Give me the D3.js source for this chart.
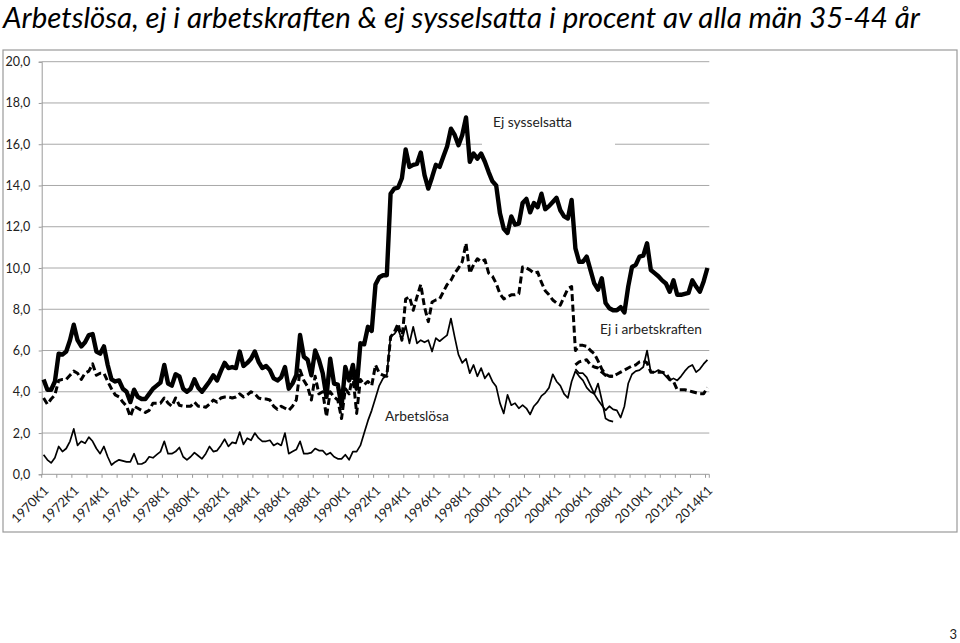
<!DOCTYPE html>
<html><head><meta charset="utf-8">
<script src="https://cdn.jsdelivr.net/npm/d3@7"></script>
<style>body{margin:0;background:#fff}</style>
</head><body>
<svg id="c" width="960" height="643"></svg>
<script>
// ---- data ----
const firstYear = 1970, lastYear = 2014, lastQuarter = 1;
const quarters = [];
for (let yy = firstYear; yy <= lastYear; yy++) for (let q = 1; q <= 4; q++) {
  if (yy === lastYear && q > lastQuarter) break;
  quarters.push(yy + "K" + q);
}
const tickLabels = ["1970K1","1972K1","1974K1","1976K1","1978K1","1980K1","1982K1","1984K1","1986K1","1988K1","1990K1","1992K1","1994K1","1996K1","1998K1","2000K1","2002K1","2004K1","2006K1","2008K1","2010K1","2012K1","2014K1"];
const yTicks = [0,2,4,6,8,10,12,14,16,18,20];

const ejSysselsatta = [4.6,4.1,4.1,4.5,5.85,5.8,5.95,6.5,7.25,6.5,
6.2,6.4,6.75,6.8,5.95,5.85,6.2,5.3,4.6,4.5,
4.55,4.15,4.0,3.5,4.1,3.75,3.65,3.65,3.9,4.15,
4.3,4.45,5.3,4.4,4.3,4.85,4.75,4.15,4.0,4.15,
4.6,4.2,4.0,4.25,4.5,4.8,4.55,5.0,5.4,5.15,
5.2,5.15,5.95,5.25,5.4,5.6,5.95,5.45,5.15,5.25,
5.05,4.65,4.55,4.7,5.2,4.15,4.4,4.8,6.75,5.7,
5.55,4.8,6.0,5.55,4.9,3.75,5.6,4.4,4.35,3.3,
5.2,4.55,5.3,4.15,6.35,6.3,7.15,6.95,9.2,9.55,
9.65,9.65,13.6,13.85,13.9,14.35,15.75,14.9,15.0,15.05,
15.6,14.5,13.85,14.4,15.0,14.9,15.4,15.9,16.75,16.45,
15.95,16.45,17.3,15.15,15.55,15.3,15.55,15.15,14.65,14.2,
14.0,12.65,11.9,11.7,12.5,12.1,12.15,13.15,13.35,12.7,
13.15,12.95,13.6,12.85,13.0,13.2,13.4,12.8,12.5,12.4,
13.3,10.95,10.3,10.3,10.55,9.9,9.25,8.95,9.5,8.3,
8.05,7.95,7.95,8.1,7.85,9.1,10.05,10.15,10.55,10.6,
11.2,9.9,9.75,9.6,9.4,9.25,8.85,9.4,8.7,8.7,
8.75,8.8,9.4,9.1,8.85,9.35,10.0];

const ejIArbetskraften = [3.7,3.4,3.65,3.85,4.55,4.6,4.6,4.8,5.0,4.9,
4.6,4.9,5.0,5.35,4.8,4.9,4.9,4.5,4.15,3.85,
3.75,3.5,3.3,2.8,3.3,3.2,3.1,3.0,3.1,3.45,
3.45,3.45,3.7,3.45,3.3,3.7,3.35,3.3,3.3,3.3,
3.5,3.3,3.3,3.25,3.4,3.6,3.5,3.7,3.75,3.75,
3.7,3.75,3.9,3.75,3.85,4.0,3.9,3.7,3.65,3.65,
3.6,3.3,3.15,3.3,3.2,3.1,3.3,3.6,5.05,4.55,
4.25,3.6,4.75,3.9,4.0,2.8,4.0,3.75,3.6,2.7,
4.15,3.9,4.8,2.95,4.6,4.35,4.5,4.3,5.3,4.9,
4.8,4.75,6.65,6.9,7.3,6.5,8.5,8.6,7.95,8.6,
9.2,8.1,7.4,8.35,8.45,8.5,8.85,9.2,9.4,9.75,
10.0,10.3,11.2,9.75,10.15,10.45,10.3,10.4,9.75,9.6,
9.25,8.75,8.5,8.6,8.7,8.7,8.75,10.05,10.0,9.9,
9.75,9.8,9.3,8.9,8.7,8.45,8.3,8.2,8.6,9.0,
9.1,6.0,6.25,6.25,6.2,6.0,5.85,5.5,5.1,4.85,
4.75,4.75,4.85,4.95,5.05,5.15,5.25,5.3,5.45,5.5,
5.4,4.95,4.95,4.95,4.95,4.9,4.6,4.5,4.1,4.1,
4.1,4.05,4.0,3.95,3.9,3.9,4.2];

const arbetslosa = [0.95,0.7,0.55,0.8,1.35,1.1,1.25,1.6,2.2,1.4,
1.6,1.5,1.8,1.6,1.25,1.0,1.35,0.85,0.45,0.6,
0.7,0.65,0.6,0.6,1.0,0.5,0.5,0.6,0.85,0.8,
0.95,1.1,1.6,1.0,1.0,1.1,1.3,0.85,0.7,0.85,
1.05,0.9,0.75,1.0,1.35,1.1,1.15,1.4,1.7,1.35,
1.55,1.5,2.05,1.45,1.75,1.65,2.0,1.75,1.6,1.6,
1.65,1.4,1.5,1.4,2.0,1.0,1.1,1.2,1.6,1.0,
1.0,1.05,1.25,1.15,1.15,0.95,1.05,0.85,0.75,0.75,
0.95,0.7,1.1,1.1,1.4,2.0,2.6,3.1,3.7,4.3,
4.65,4.8,6.7,6.8,7.05,6.5,7.2,6.35,7.15,6.35,
6.5,6.4,6.5,5.95,6.6,6.45,6.6,6.75,7.55,6.65,
5.8,5.4,5.6,4.9,5.3,4.75,5.15,4.65,4.9,4.5,
4.25,3.45,2.95,3.85,3.35,3.45,3.2,3.35,3.2,2.9,
3.3,3.5,3.8,3.95,4.2,4.85,4.5,4.3,3.9,3.7,
4.5,5.0,4.75,4.55,4.2,4.0,3.9,3.6,3.35,3.1,
3.3,3.15,3.1,2.75,3.3,4.4,4.85,5.0,5.05,5.2,
6.0,4.95,4.95,5.05,4.95,4.75,4.55,4.65,4.55,4.75,
5.0,5.2,5.3,4.95,5.1,5.35,5.55];

// second strands shown 2005K2–2007K4
const altQuarters = ["2005K2","2005K3","2005K4","2006K1","2006K2","2006K3","2006K4","2007K1","2007K2","2007K3","2007K4"];
const arbetslosaAlt = [5.1,4.9,4.9,4.7,4.3,3.9,4.4,3.6,2.7,2.6,2.55];
const ejIArbetskraftenAlt = [5.3,5.45,5.5,5.55,5.3,5.2,5.15,4.95,4.8,4.75,4.75];

// ---- drawing ----
const svg = d3.select("#c");
const W = 960, H = 643;
const pLeft = 41.7, pRight = 709.3, pTop = 61.7, pBottom = 474.3;

svg.append("rect").attr("x",0).attr("y",0).attr("width",W).attr("height",H).attr("fill","#fff");
svg.append("rect").attr("x",3).attr("y",50).attr("width",954).attr("height",482)
  .attr("fill","#fff").attr("stroke","#9a9a9a").attr("stroke-width",1.2);

const x = d3.scaleBand().domain(quarters).range([pLeft, pRight]).paddingInner(0).paddingOuter(0);
const cx = q => x(q) + x.bandwidth()/2;
const y = d3.scaleLinear().domain([0,20]).range([pBottom, pTop]);

function fit(sel, target) {
  const w = sel.node().getComputedTextLength();
  const fs = parseFloat(sel.attr("font-size"));
  if (w > 0) sel.attr("font-size", fs * target / w);
}

// gridlines
svg.append("g").selectAll("line").data(yTicks.filter(v => v > 0)).join("line")
  .attr("x1", pLeft).attr("x2", pRight)
  .attr("y1", d => y(d)).attr("y2", d => y(d))
  .attr("stroke", "#a8a8a8").attr("stroke-width", 1);

// y axis
const yAxis = d3.axisLeft(y).tickValues(yTicks).tickSize(3).tickFormat(d => d3.format(".1f")(d).replace(".", ","));
const gy = svg.append("g").attr("transform", `translate(${pLeft},0)`).call(yAxis);
gy.select(".domain").attr("stroke", "#9a9a9a");
gy.selectAll(".tick line").attr("stroke", "#9a9a9a");
gy.selectAll(".tick text").attr("x", -11.5).attr("font-family", "Lato, sans-serif").attr("font-size", 12.5).attr("fill", "#222");

// x axis
const tickCats = quarters.filter((q, i) => i % 4 === 0);
const gx = svg.append("g");
gx.append("line").attr("x1", pLeft).attr("x2", pRight).attr("y1", pBottom).attr("y2", pBottom).attr("stroke", "#9a9a9a");
gx.selectAll("line.t").data(tickCats).join("line").attr("class","t")
  .attr("x1", d => x(d)).attr("x2", d => x(d)).attr("y1", pBottom).attr("y2", pBottom + 3.5)
  .attr("stroke", "#9a9a9a");
gx.append("line").attr("x1", pRight).attr("x2", pRight).attr("y1", pBottom).attr("y2", pBottom + 3.5).attr("stroke", "#9a9a9a");
gx.selectAll("text").data(tickLabels).join("text")
  .attr("transform", d => `translate(${cx(d) + 6},${pBottom + 17}) rotate(-45)`)
  .attr("text-anchor", "end")
  .attr("font-family", "Lato, sans-serif").attr("font-size", 13).attr("fill", "#222")
  .text(d => d);

// white label box for "Ej sysselsatta" (hides part of a gridline as in the original)
svg.append("rect").attr("x", 482).attr("y", 108).attr("width", 133).attr("height", 42).attr("fill", "#fff");

// lines
const line = d3.line().x(d => cx(d[0])).y(d => y(d[1]));
const pairs = (cats, vals) => cats.map((c, i) => [c, vals[i]]);

svg.append("path").datum(pairs(quarters, arbetslosa)).attr("d", line)
  .attr("fill", "none").attr("stroke", "#000").attr("stroke-width", 1.7).attr("stroke-linejoin", "round");
svg.append("path").datum(pairs(altQuarters, arbetslosaAlt)).attr("d", line)
  .attr("fill", "none").attr("stroke", "#000").attr("stroke-width", 1.7).attr("stroke-linejoin", "round");
svg.append("path").datum(pairs(quarters, ejIArbetskraften)).attr("d", line)
  .attr("fill", "none").attr("stroke", "#000").attr("stroke-width", 3).attr("stroke-dasharray", "7,3.5").attr("stroke-linejoin", "round");
svg.append("path").datum(pairs(altQuarters, ejIArbetskraftenAlt)).attr("d", line)
  .attr("fill", "none").attr("stroke", "#000").attr("stroke-width", 3).attr("stroke-dasharray", "7,3.5").attr("stroke-linejoin", "round");
svg.append("path").datum(pairs(quarters, ejSysselsatta)).attr("d", line)
  .attr("fill", "none").attr("stroke", "#000").attr("stroke-width", 4.4).attr("stroke-linejoin", "round");

// series labels
const lab = (t, x0, yb, w) => {
  const s = svg.append("text").attr("x", x0).attr("y", yb).attr("font-family", "Lato, sans-serif")
    .attr("font-size", 14).attr("fill", "#222").text(t);
  fit(s, w);
};
lab("Ej sysselsatta", 493, 127, 79);
lab("Ej i arbetskraften", 600, 334, 102);
lab("Arbetslösa", 385, 421, 64);

// title
const title = svg.append("text").attr("x", 3).attr("y", 28)
  .attr("font-family", "Lato, sans-serif").attr("font-style", "italic").attr("font-size", 30).attr("fill", "#000")
  .text("Arbetslösa, ej i arbetskraften & ej sysselsatta i procent av alla män 35-44 år");
fit(title, 917);

// page number
svg.append("text").attr("x", 957).attr("y", 639).attr("text-anchor", "end")
  .attr("font-family", "Lato, sans-serif").attr("font-size", 13).attr("fill", "#222").text("3");
</script>
</body></html>
